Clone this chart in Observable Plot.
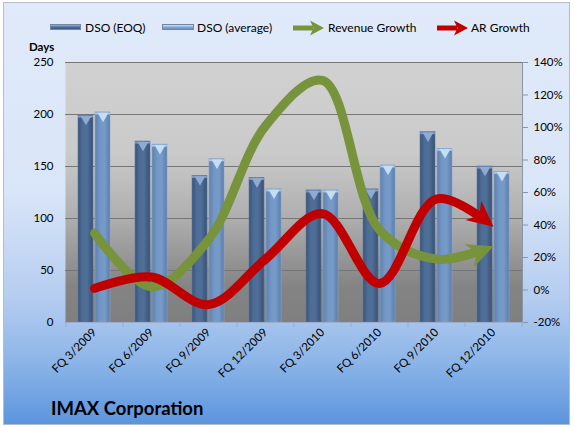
<!DOCTYPE html>
<html>
<head>
<meta charset="utf-8">
<script src="https://cdn.jsdelivr.net/npm/d3@7"></script>
<script src="https://cdn.jsdelivr.net/npm/@observablehq/plot@0.6"></script>
<style>
  body { margin: 0; background: #fff; font-family: Lato, "Open Sans", sans-serif; }
  #wrap { position: relative; width: 575px; height: 427px; overflow: hidden; background: #fff; }
  #bg { position: absolute; left: 3px; top: 2px; width: 565px; height: 421px; border: 1px solid #b8bcc4;
        background: linear-gradient(to bottom, #e0eafa 0%, #d9e5f8 45%, #b5cdf0 70%, #8db5e8 85%, #5c95de 100%); }
  .lg { position: absolute; top: 20px; height: 16px; line-height: 16px; font-size: 12px; color: #000; white-space: nowrap; }
  .sw { position: absolute; top: 24px; height: 6px; border: 1px solid #6f86a6; box-sizing: border-box; }
  #days { position: absolute; left: 29px; top: 39px; font-size: 11.5px; font-weight: bold; line-height: 16px; }
  #title { position: absolute; left: 51px; top: 397px; font-size: 18.5px; font-weight: bold; line-height: 22px; }
  #chart { position: absolute; left: 0; top: 0; }
</style>
</head>
<body>
<div id="wrap">
  <div id="bg"></div>
  <div class="sw" style="left:50px;width:31px;background:linear-gradient(to bottom,#9bb4d6,#4f6f98 50%,#3c5880)"></div>
  <div class="lg" style="left:85px">DSO (EOQ)</div>
  <div class="sw" style="left:162px;width:32px;background:linear-gradient(to bottom,#d5e6f8,#88abd6 50%,#6c90bf)"></div>
  <div class="lg" style="left:197px">DSO (average)</div>
  <svg style="position:absolute;left:291px;top:19px" width="34" height="18">
    <line x1="2" y1="9" x2="22" y2="9" stroke="#77933c" stroke-width="5"/>
    <path d="M33,9L19,1.5L22.5,9L19,16.5Z" fill="#77933c"/>
  </svg>
  <div class="lg" style="left:328px">Revenue Growth</div>
  <svg style="position:absolute;left:435px;top:19px" width="34" height="18">
    <line x1="2" y1="9" x2="22" y2="9" stroke="#c00000" stroke-width="5"/>
    <path d="M33,9L19,1.5L22.5,9L19,16.5Z" fill="#c00000"/>
  </svg>
  <div class="lg" style="left:471px">AR Growth</div>
  <div id="days">Days</div>
  <div id="chart"></div>
  <div id="title">IMAX Corporation</div>
</div>
<script>
// ---- data ----
const categories = ["FQ 3/2009", "FQ 6/2009", "FQ 9/2009", "FQ 12/2009", "FQ 3/2010", "FQ 6/2010", "FQ 9/2010", "FQ 12/2010"];
const dsoEOQ = [199, 174, 141, 139, 127, 128, 183, 150];
const dsoAverage = [202, 171, 157, 128, 127, 151, 167, 145];
const revenueGrowth = [35, 2, 31, 101, 129, 37, 19, 27];   // %
const arGrowth = [1, 8, -9, 19, 47, 4, 56, 39];            // %
const daysTicks = [0, 50, 100, 150, 200, 250];
const pctTicks = [-20, 0, 20, 40, 60, 80, 100, 120, 140];

const GREEN = "#77933c", RED = "#c00000";

// secondary axis (-20%..140%) mapped onto primary (0..250 days)
const pctMin = -20, pctMax = 140, daysMax = 250;
const toDays = p => (p - pctMin) * daysMax / (pctMax - pctMin);
const toPct = d => d * (pctMax - pctMin) / daysMax + pctMin;

const rows = categories.map((c, i) => ({
  cat: c, eoq: dsoEOQ[i], avg: dsoAverage[i],
  rev: toDays(revenueGrowth[i]), ar: toDays(arGrowth[i])
}));

const W = 575, ML = 65, MR = 53;
const step = (W - ML - MR) / categories.length;

const defs = () => {
  const d = d3.create("svg:defs");
  const lg = (id, stops, vertical) => {
    const g = d.append("linearGradient").attr("id", id)
      .attr("x1", 0).attr("y1", 0).attr("x2", vertical ? 0 : 1).attr("y2", vertical ? 1 : 0);
    stops.forEach(([o, c]) => g.append("stop").attr("offset", o).attr("stop-color", c));
  };
  lg("plotBg", [[0, "#d1d1d1"], [0.35, "#cacaca"], [0.6, "#aeaeae"], [0.86, "#848484"], [1, "#7f7f7f"]], true);
  lg("gEOQ", [[0, "#3a5378"], [0.3, "#4d6c95"], [0.6, "#4f6f99"], [1, "#394f72"]], false);
  lg("gAvg", [[0, "#5e81ae"], [0.35, "#7398c6"], [0.65, "#769bc9"], [1, "#5a7ca8"]], false);
  const mk = (id, color) => {
    d.append("marker").attr("id", id).attr("markerUnits", "userSpaceOnUse")
      .attr("orient", "auto").attr("overflow", "visible")
      .attr("markerWidth", 1).attr("markerHeight", 1).attr("refX", 0).attr("refY", 0)
      .append("path").attr("d", "M0,0L-26,-12.5L-18,0L-26,12.5Z").attr("fill", color);
  };
  mk("arrowG", GREEN);
  mk("arrowR", RED);
  return d.node();
};

const chart = Plot.plot({
  width: W, height: 390,
  marginTop: 62, marginBottom: 68, marginLeft: ML, marginRight: MR,
  style: { background: "transparent", fontFamily: "Lato, 'Open Sans', sans-serif", fontSize: "11.5px", color: "#000", overflow: "visible" },
  x: { domain: categories, paddingInner: 0.44, paddingOuter: 0.22, label: null },
  y: { domain: [0, daysMax], label: null },
  marks: [
    defs,
    Plot.frame({ fill: "url(#plotBg)", stroke: "none" }),
    Plot.gridY({ ticks: daysTicks.slice(1), stroke: "#767676", strokeOpacity: 1 }),
    Plot.barY(rows, { x: "cat", y: "eoq", fill: "url(#gEOQ)", insetRight: 17, stroke: "#5e7ca3", strokeWidth: 0.6 }),
    Plot.barY(rows, { x: "cat", y: "avg", fill: "url(#gAvg)", insetLeft: 17, stroke: "#86a4cb", strokeWidth: 0.6 }),
    Plot.tickY(rows, { x: "cat", y: "eoq", insetRight: 17, dy: 1, stroke: "#7f9cc4", strokeWidth: 2 }),
    Plot.tickY(rows, { x: "cat", y: "avg", insetLeft: 17, dy: 1, stroke: "#a9c8ea", strokeWidth: 2 }),
    Plot.dot(rows, { x: "cat", y: "eoq", dx: -8.5, dy: 3.5, symbol: "triangle", rotate: 180, r: 4, fill: "#8eabd3" }),
    Plot.dot(rows, { x: "cat", y: "avg", dx: 8.5, dy: 3.5, symbol: "triangle", rotate: 180, r: 4, fill: "#c3def5" }),
    Plot.line(rows, { x: "cat", y: "rev", stroke: GREEN, strokeWidth: 9, curve: "catmull-rom",
      strokeLinecap: "round", strokeLinejoin: "round" }),
    Plot.line(rows, { x: "cat", y: "ar", stroke: RED, strokeWidth: 9, curve: "catmull-rom",
      strokeLinecap: "round", strokeLinejoin: "round" }),
    Plot.frame({ anchor: "right", stroke: "#8996a8" }),
    Plot.frame({ anchor: "bottom", stroke: "#9aaecb" }),
    Plot.axisX({ tickSize: 5, tickFormat: () => "", dx: -step / 2, stroke: "#9aaecb" }),
    Plot.axisX({ ticks: [categories[categories.length - 1]], tickSize: 5, tickFormat: () => "", dx: step / 2, stroke: "#9aaecb" }),
    Plot.axisX({ tickRotate: -45, tickSize: 0, tickPadding: 8, fill: "#000" }),
    Plot.axisY({ anchor: "left", ticks: daysTicks, tickSize: 0, tickPadding: 12, fill: "#000" }),
    Plot.axisY({ anchor: "right", ticks: pctTicks.map(toDays), tickFormat: d => `${Math.round(toPct(d))}%`,
      tickSize: 5, tickPadding: 6, stroke: "#8996a8", fill: "#000" })
  ]
});

document.getElementById("chart").appendChild(chart);

[[GREEN, "arrowG"], [RED, "arrowR"]].forEach(([color, marker]) => {
  chart.querySelectorAll(`g[stroke="${color}"] path`).forEach(p => {
    const L = p.getTotalLength();
    p.setAttribute("stroke-dasharray", `${L - 13} ${L + 50}`);
    p.setAttribute("marker-end", `url(#${marker})`);
  });
});
</script>
</body>
</html>
